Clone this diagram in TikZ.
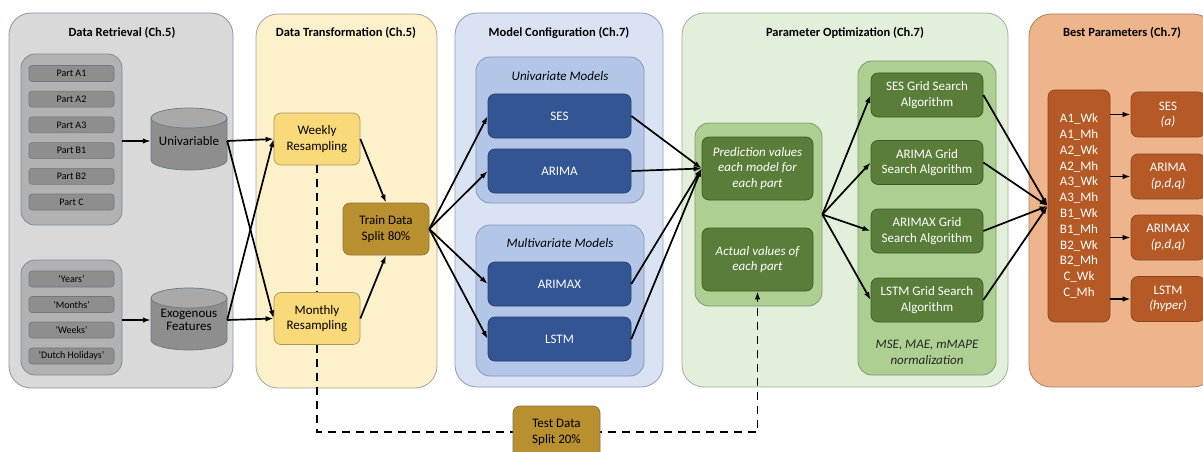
\documentclass[tikz,border=0pt]{standalone}
\usepackage{fontspec}
\setmainfont{Carlito}
\usetikzlibrary{arrows.meta}

\definecolor{drfill}{HTML}{D9D9D9}
\definecolor{drdraw}{HTML}{8C96A8}
\definecolor{grayg}{HTML}{B2B2B2}
\definecolor{graygd}{HTML}{7F8A9C}
\definecolor{grayi}{HTML}{8E8E8E}
\definecolor{grayid}{HTML}{6F7785}
\definecolor{cyltop}{HTML}{A9A9A9}
\definecolor{dtfill}{HTML}{FCF1CB}
\definecolor{dtdraw}{HTML}{A8A49A}
\definecolor{yel}{HTML}{FAD97A}
\definecolor{yeld}{HTML}{A89860}
\definecolor{gold}{HTML}{B8902F}
\definecolor{goldd}{HTML}{8A7440}
\definecolor{mcfill}{HTML}{DAE3F3}
\definecolor{mcdraw}{HTML}{8C9DC0}
\definecolor{mcgrp}{HTML}{B4C6E7}
\definecolor{mcgrpd}{HTML}{8797BA}
\definecolor{blu}{HTML}{335593}
\definecolor{blud}{HTML}{24406F}
\definecolor{pofill}{HTML}{E2EFDA}
\definecolor{podraw}{HTML}{A0B098}
\definecolor{pogrp}{HTML}{ADD092}
\definecolor{pogrpd}{HTML}{7F9A70}
\definecolor{grn}{HTML}{5A7E3A}
\definecolor{grnd}{HTML}{3E5A28}
\definecolor{bpfill}{HTML}{EEB48C}
\definecolor{bpdraw}{HTML}{A88068}
\definecolor{org}{HTML}{B55A27}
\definecolor{orgd}{HTML}{8A4520}

\begin{document}
\begin{tikzpicture}[x=1pt,y=-1pt,
  txt/.style={font=\fontsize{13}{15.5}\selectfont, align=center},
  itx/.style={font=\fontsize{13}{15.7}\selectfont\itshape, align=center},
  ttl/.style={font=\fontsize{12.5}{15}\selectfont\bfseries},
  sz/.style 2 args={minimum width=#1pt, minimum height=#2pt, inner sep=0pt},
  panel/.style 2 args={draw=#2, fill=#1, line width=0.8pt, rounded corners=22pt},
  grp/.style 2 args={draw=#2, fill=#1, line width=0.8pt, rounded corners=14pt},
  cell/.style 2 args={draw=#2, fill=#1, line width=0.7pt, rounded corners=7pt, txt},
  partbox/.style={draw=grayid, fill=grayi, line width=0.6pt, rounded corners=3pt,
    sz={85}{16}, font=\fontsize{10}{11}\selectfont},
  arr/.style={line width=1.7pt, -{Latex[length=8pt,width=5.5pt]}},
  dashline/.style={line width=1.9pt, dash pattern=on 8pt off 6pt},
  drum/.style={draw=grayid, fill=grayi, line width=0.7pt},
  drumtop/.style={draw=grayid, fill=cyltop, line width=0.7pt}
]
\useasboundingbox (0,0) rectangle (1203,452);
\clip (0,0) rectangle (1203,452);
\fill[white] (0,0) rectangle (1203,452);

% ---- column panels ----
\node[panel={drfill}{drdraw}, sz={224}{375}] (pdr) at (121,200.5) {};
\node[panel={dtfill}{dtdraw}, sz={181}{374}] (pdt) at (346.5,201) {};
\node[panel={mcfill}{mcdraw}, sz={208}{374}] (pmc) at (559,200) {};
\node[panel={pofill}{podraw}, sz={326}{374}] (ppo) at (845,200) {};
\node[panel={bpfill}{bpdraw}, sz={186}{373}] (pbp) at (1122,200.5) {};

\node[ttl] (tdr) at (122,33) {Data Retrieval (Ch.5)};
\node[ttl] (tdt) at (346,33) {Data Transformation (Ch.5)};
\node[ttl] (tmc) at (559,33) {Model Configuration (Ch.7)};
\node[ttl] (tpo) at (845,33) {Parameter Optimization (Ch.7)};
\node[ttl] (tbp) at (1122,33) {Best Parameters (Ch.7)};

% ---- data retrieval ----
\node[grp={grayg}{graygd}, sz={101}{171}] (parts) at (71.5,139.5) {};
\node[partbox] (pa1) at (71.5,73.5) {Part A1};
\node[partbox] (pa2) at (71.5,99.2) {Part A2};
\node[partbox] (pa3) at (71.5,124.9) {Part A3};
\node[partbox] (pb1) at (71.5,150.6) {Part B1};
\node[partbox] (pb2) at (71.5,176.3) {Part B2};
\node[partbox] (pc) at (71.5,202) {Part C};

\node[grp={grayg}{graygd}, sz={101}{115}] (exo) at (71.5,317.5) {};
\node[partbox] (ey) at (71.5,279) {'Years'};
\node[partbox] (em) at (71.5,304.5) {`Months'};
\node[partbox] (ew) at (71.5,330) {'Weeks'};
\node[partbox] (eh) at (71.5,356) {'Dutch Holidays'};

% cylinders
\path[drum] (151,118) -- (151,160) arc[start angle=180, end angle=360, x radius=38pt, y radius=10pt] -- (227,118) -- cycle;
\path[drumtop] (189,118) ellipse [x radius=38pt, y radius=10pt];
\path[drum] (151,298) -- (151,340) arc[start angle=180, end angle=360, x radius=38pt, y radius=10pt] -- (227,298) -- cycle;
\path[drumtop] (189,298) ellipse [x radius=38pt, y radius=10pt];
\node[txt, sz={76}{56}] (univ) at (189,141) {\raisebox{-4pt}{Univariable}};
\node[txt, sz={76}{56}] (exof) at (189,320) {\raisebox{-4pt}{\shortstack{Exogenous\\[-1pt]Features}}};

% ---- data transformation ----
\node[cell={yel}{yeld}, sz={86}{52}] (week) at (317,139) {Weekly\\Resampling};
\node[cell={yel}{yeld}, sz={86}{52}] (month) at (317,318.5) {Monthly\\Resampling};
\node[cell={gold}{goldd}, sz={86}{52}] (train) at (386,229) {Train Data\\Split 80\%};

% ---- model configuration ----
\node[grp={mcgrp}{mcgrpd}, sz={168}{146}] (gu) at (560,130) {};
\node[grp={mcgrp}{mcgrpd}, sz={168}{151}] (gm) at (560,300.5) {};
\node[itx] (lu) at (560,76) {Univariate Models};
\node[itx] (lm) at (560,243) {Multivariate Models};
\node[cell={blu}{blud}, sz={143}{44}, text=white] (ses) at (559.5,116) {SES};
\node[cell={blu}{blud}, sz={143}{44}, text=white] (arima) at (559.5,171) {ARIMA};
\node[cell={blu}{blud}, sz={143}{44}, text=white] (arimax) at (559.5,284) {ARIMAX};
\node[cell={blu}{blud}, sz={143}{44}, text=white] (lstm) at (559.5,339) {LSTM};

% ---- parameter optimization ----
\node[grp={pogrp}{pogrpd}, sz={127}{183}] (gl) at (758.5,214.5) {};
\node[grp={pogrp}{pogrpd}, sz={138}{314}] (gr) at (927,218) {};
\node[cell={grn}{grnd}, sz={111}{63}, text=white, itx] (pred) at (757.5,168.5) {Prediction values\\each model for\\each part};
\node[cell={grn}{grnd}, sz={111}{63}, text=white, itx] (act) at (757.5,259.5) {Actual values of\\each part};
\node[cell={grn}{grnd}, sz={112}{44}, text=white] (gses) at (927,95) {SES Grid Search\\Algorithm};
\node[cell={grn}{grnd}, sz={112}{44}, text=white] (garima) at (927,162.5) {ARIMA Grid\\Search Algorithm};
\node[cell={grn}{grnd}, sz={112}{44}, text=white] (garimax) at (927,231) {ARIMAX Grid\\Search Algorithm};
\node[cell={grn}{grnd}, sz={112}{44}, text=white] (glstm) at (927,300) {LSTM Grid Search\\Algorithm};
\node[itx, text=black!85] (metric) at (927,352) {MSE, MAE, mMAPE\\normalization};

% ---- best parameters ----
\node[cell={org}{orgd}, sz={62}{232}, text=white, font=\fontsize{13}{15.8}\selectfont] (list) at (1079,206)
  {A1\_Wk\\A1\_Mh\\A2\_Wk\\A2\_Mh\\A3\_Wk\\A3\_Mh\\B1\_Wk\\B1\_Mh\\B2\_Wk\\B2\_Mh\\C\_Wk\\C\_Mh};
\node[cell={org}{orgd}, sz={74}{45}, text=white] (rses) at (1168,114.5) {SES\\\textit{(a)}};
\node[cell={org}{orgd}, sz={74}{45}, text=white] (rarima) at (1168,176.5) {ARIMA\\\textit{(p,d,q)}};
\node[cell={org}{orgd}, sz={74}{45}, text=white] (rarimax) at (1168,237.5) {ARIMAX\\\textit{(p,d,q)}};
\node[cell={org}{orgd}, sz={74}{45}, text=white] (rlstm) at (1168,299) {LSTM\\\textit{(hyper)}};

% ---- connectors ----
\draw[arr] (parts.east |- univ.west) -- (univ.west);
\draw[arr] (exo.east |- exof.west) -- (exof.west);
\draw[arr] (univ.east) -- (week.west);
\draw[arr] (univ.east) -- (month.west);
\draw[arr] (exof.east) -- (week.west);
\draw[arr] (exof.east) -- (month.west);
\draw[arr] (week.east) -- (train.north);
\draw[arr] (month.east) -- (train.south);
\foreach \m in {ses,arima,arimax,lstm} \draw[arr] (train.east) -- (\m.west);
\foreach \m in {ses,arima,arimax,lstm} \draw[arr] (\m.east) -- (pred.west);
\foreach \g in {gses,garima,garimax,glstm} \draw[arr] (gl.east) -- (\g.west);
\foreach \g in {gses,garima,garimax,glstm} \draw[arr] (\g.east) -- (list.west);
\foreach \r in {rses,rarima,rarimax,rlstm} \draw[arr] (list.east |- \r.west) -- (\r.west);

% held-out test split feeding the actual values
\coordinate (dcorner) at (317,432);
\draw[dashline] (week.south) -- (month.north);
\draw[dashline, -{Latex[length=8pt,width=5.5pt]}] (month.south) -- (dcorner) -| (act.south);
\node[cell={gold}{goldd}, sz={87}{53}] (test) at (556.5,432.5) {Test Data\\Split 20\%};
\end{tikzpicture}
\end{document}
